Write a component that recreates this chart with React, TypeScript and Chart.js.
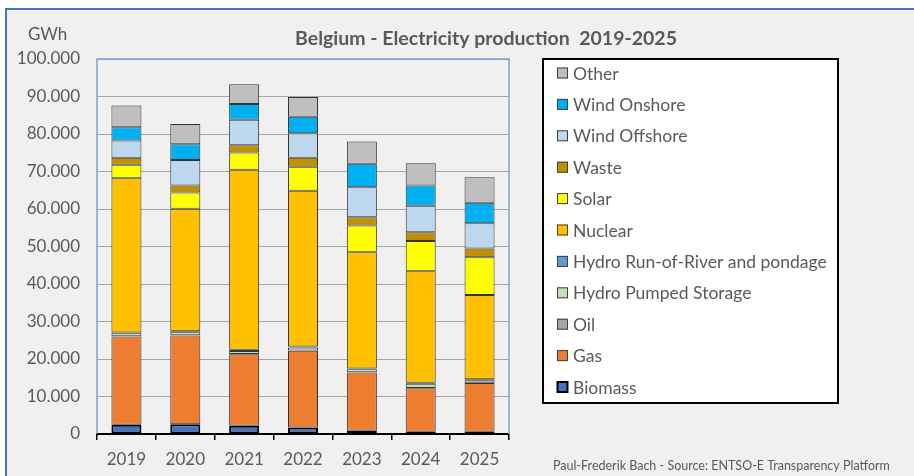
import React, { useEffect, useRef } from "react";
import { Chart, registerables } from "chart.js";

Chart.register(...registerables);

const years = ["2019", "2020", "2021", "2022", "2023", "2024", "2025"];

// GWh, stacked bottom to top
const biomass = [2450, 2600, 2200, 1750, 900, 600, 600];
const gas = [23550, 23700, 19100, 20450, 15500, 11600, 13000];
const oil = [50, 50, 50, 100, 50, 100, 50];
const hydroPumped = [800, 800, 800, 800, 800, 1100, 700];
const hydroRoR = [250, 250, 300, 250, 250, 300, 250];
const nuclear = [41100, 32650, 48000, 41500, 31000, 29700, 22500];
const solar = [3600, 4350, 4650, 6450, 7100, 8100, 10050];
const waste = [1850, 1900, 1900, 2400, 2200, 2300, 2300];
const windOffshore = [4650, 6800, 6800, 6500, 8000, 7050, 6750];
const windOnshore = [3500, 4200, 4200, 4400, 6250, 5450, 5500];
const other = [5800, 5400, 5300, 5300, 5950, 5900, 6800];

const seriesNames = [
  "Biomass",
  "Gas",
  "Oil",
  "Hydro Pumped Storage",
  "Hydro Run-of-River and pondage",
  "Nuclear",
  "Solar",
  "Waste",
  "Wind Offshore",
  "Wind Onshore",
  "Other",
];
const seriesValues = [
  biomass, gas, oil, hydroPumped, hydroRoR, nuclear, solar, waste, windOffshore, windOnshore, other,
];
const seriesColors = [
  "#4472c4", "#ed7d31", "#a5a5a5", "#c5e0b4", "#5b9bd5", "#ffc000",
  "#ffff00", "#bf9000", "#bdd7ee", "#00b0f0", "#bfbfbf",
];

const yMax = 100000;
const yStep = 10000;
const title = "Belgium - Electricity production  2019-2025";
const unitLabel = "GWh";
const footer = "Paul-Frederik Bach - Source: ENTSO-E Transparency Platform";

const FONT = "Lato";
const TEXT = "#595959";

const decorPlugin = {
  id: "decor",
  afterDraw(chart: any) {
    const ctx = chart.ctx as CanvasRenderingContext2D;
    const a = chart.chartArea;
    ctx.save();
    // plot frame (left, top, right)
    ctx.strokeStyle = "#7f9fd6";
    ctx.lineWidth = 1.5;
    ctx.beginPath();
    ctx.moveTo(a.left, a.bottom);
    ctx.lineTo(a.left, a.top);
    ctx.lineTo(a.right, a.top);
    ctx.lineTo(a.right, a.bottom);
    ctx.stroke();

    // title
    ctx.fillStyle = TEXT;
    ctx.textBaseline = "middle";
    ctx.textAlign = "center";
    ctx.font = `bold 19.5px ${FONT}`;
    ctx.fillText(title, 486, 39);

    // unit
    ctx.font = `17px ${FONT}`;
    ctx.textAlign = "left";
    ctx.fillText(unitLabel, 28, 35);

    // footer
    ctx.font = `12.5px ${FONT}`;
    ctx.fillText(footer, 553, 466);

    // legend box
    const lx = 543, ly = 59, lw = 295, lh = 344;
    ctx.fillStyle = "#ffffff";
    ctx.fillRect(lx, ly, lw, lh);
    ctx.strokeStyle = "#000000";
    ctx.lineWidth = 2;
    ctx.strokeRect(lx, ly, lw, lh);

    const ds = chart.data.datasets;
    const n = ds.length;
    ctx.font = `17.5px ${FONT}`;
    for (let i = 0; i < n; i++) {
      const d = ds[n - 1 - i];
      const cy = 73 + i * 31.4;
      const isBio = d.label === "Biomass";
      ctx.fillStyle = d.backgroundColor;
      ctx.fillRect(557, cy - 5.5, 11, 11);
      ctx.strokeStyle = isBio ? "#000000" : "#404040";
      ctx.lineWidth = isBio ? 2 : 1;
      ctx.strokeRect(557.5, cy - 5, 10, 10);
      ctx.fillStyle = TEXT;
      ctx.fillText(d.label, 573, cy + 1);
    }
    ctx.restore();
  },
};

export default function App() {
  const ref = useRef<HTMLCanvasElement>(null);

  useEffect(() => {
    if (!ref.current) return;
    const datasets = seriesNames.map((name, i) => ({
      label: name,
      data: seriesValues[i],
      backgroundColor: seriesColors[i],
      borderColor: name === "Biomass" ? "#000000" : "#333333",
      borderWidth: name === "Biomass" ? 2 : 1,
      borderSkipped: false,
      barPercentage: 0.51,
      categoryPercentage: 1,
    }));
    const chart = new Chart(ref.current, {
      type: "bar",
      data: { labels: years, datasets },
      options: {
        animation: false,
        responsive: false,
        layout: { padding: { left: 0, right: 405, top: 59, bottom: 0 } },
        plugins: { legend: { display: false }, tooltip: { enabled: false }, title: { display: false } },
        scales: {
          x: {
            stacked: true,
            afterFit: (s: any) => { s.height = 42; },
            grid: { offset: true, drawOnChartArea: false, drawTicks: true, tickLength: 6, color: "#000000", lineWidth: 1.5 },
            border: { display: true, color: "#000000", width: 2 },
            ticks: { color: TEXT, font: { family: FONT, size: 17 }, padding: 9 },
          },
          y: {
            stacked: true,
            min: 0,
            max: yMax,
            afterFit: (s: any) => { s.width = 97; },
            grid: { color: "#a6a6a6", lineWidth: 1, drawTicks: false },
            border: { display: false },
            ticks: {
              stepSize: yStep,
              color: TEXT,
              font: { family: FONT, size: 17 },
              padding: 17,
              callback: (v: any) => Number(v).toLocaleString("de-DE"),
            },
          },
        },
      },
      plugins: [decorPlugin],
    });
    return () => chart.destroy();
  }, []);

  return (
    <div style={{ position: "absolute", left: 0, top: 0, width: 914, height: 476, background: "#ffffff", overflow: "hidden" }}>
      <div
        style={{
          position: "absolute",
          left: 5,
          top: 8,
          width: 909,
          height: 468,
          background: "#f0f0f0",
          borderTop: "2px solid #4472c4",
          borderLeft: "2px solid #4472c4",
          boxSizing: "border-box",
        }}
      />
      <canvas ref={ref} width={914} height={476} style={{ position: "absolute", left: 0, top: 0, width: 914, height: 476 }} />
    </div>
  );
}
